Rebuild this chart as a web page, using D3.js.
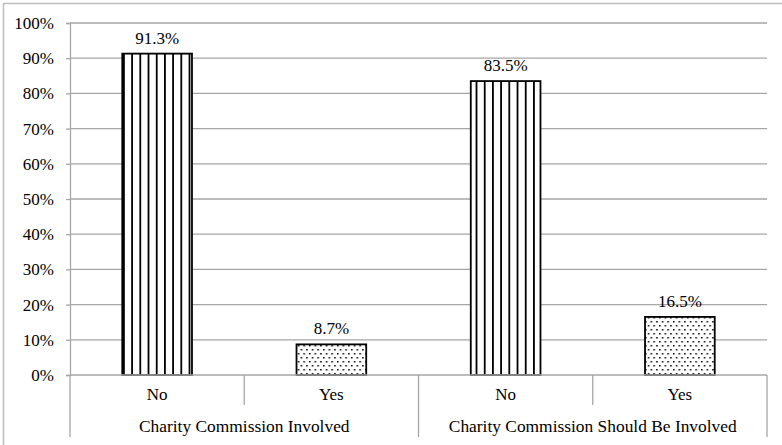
<!DOCTYPE html>
<html><head><meta charset="utf-8">
<script src="https://cdn.jsdelivr.net/npm/d3@7"></script>
<style>
html,body{margin:0;padding:0;background:#fff;}
svg{display:block;}
svg text{font-family:'Liberation Serif','Times New Roman',Times,'DejaVu Serif',serif !important;fill:#000;}
</style></head>
<body><svg id="chart" width="782" height="445"></svg>
<script>
const groups = ["Charity Commission Involved", "Charity Commission Should Be Involved"];
const answers = ["No", "Yes"];
const values = [0.913, 0.087, 0.835, 0.165];
const valueLabels = ["91.3%", "8.7%", "83.5%", "16.5%"];
const yTicks = [0, 0.1, 0.2, 0.3, 0.4, 0.5, 0.6, 0.7, 0.8, 0.9, 1.0];

(function () {
const FONT = "'Liberation Serif','Times New Roman',Times,serif";
const rows = [];
groups.forEach((g, gi) => answers.forEach((a, ai) => rows.push({
  key: g + "|" + a, group: g, answer: a, value: values[gi * 2 + ai], label: valueLabels[gi * 2 + ai]
})));

const svg = d3.select("#chart").attr("font-family", FONT);
const mLeft = 70, mRight = 767, mTop = 23, mBottom = 375;

const defs = svg.append("defs");
const pv = defs.append("pattern").attr("id", "vlines").attr("patternUnits", "userSpaceOnUse")
  .attr("width", 8.2).attr("height", 10).attr("x", 0).attr("y", 0);
pv.append("rect").attr("width", 8.2).attr("height", 10).attr("fill", "#fff");
pv.append("rect").attr("x", 0).attr("y", 0).attr("width", 1.8).attr("height", 10).attr("fill", "#000");

const pd = defs.append("pattern").attr("id", "dots").attr("patternUnits", "userSpaceOnUse")
  .attr("width", 5.6).attr("height", 8);
pd.append("rect").attr("width", 5.6).attr("height", 8).attr("fill", "#fff");
pd.append("rect").attr("x", 1).attr("y", 1).attr("width", 1.5).attr("height", 1.5).attr("fill", "#000");
pd.append("rect").attr("x", 3.8).attr("y", 5).attr("width", 1.5).attr("height", 1.5).attr("fill", "#000");

svg.append("rect").attr("x", 3.5).attr("y", 3.5).attr("width", 800).attr("height", 460)
  .attr("fill", "none").attr("stroke", "#bdbdbd").attr("stroke-width", 1.5);

const x = d3.scaleBand().domain(rows.map(d => d.key)).range([mLeft, mRight]).paddingInner(0).paddingOuter(0);
const y = d3.scaleLinear().domain([0, 1]).range([mBottom, mTop]);

svg.append("g").selectAll("line").data(yTicks.filter(t => t > 0)).join("line")
  .attr("x1", mLeft).attr("x2", mRight).attr("y1", d => y(d)).attr("y2", d => y(d))
  .attr("stroke", "#a6a6a6").attr("stroke-width", 1.3);

const yAxis = d3.axisLeft(y).tickValues(yTicks).tickFormat(d3.format(".0%")).tickSize(4).tickPadding(12);
const ya = svg.append("g").attr("transform", `translate(${mLeft},0)`).call(yAxis);
ya.attr("font-family", FONT).attr("font-size", 17);
ya.select(".domain").attr("stroke", "#a6a6a6").attr("stroke-width", 1.3);
ya.selectAll(".tick line").attr("stroke", "#a6a6a6").attr("stroke-width", 1.3);
ya.selectAll(".tick text").attr("font-size", 17).attr("font-family", FONT).attr("fill", "#000");

const bw = x.bandwidth() * 0.4;
svg.append("g").selectAll("rect").data(rows).join("rect")
  .attr("x", d => x(d.key) + (x.bandwidth() - bw) / 2)
  .attr("y", d => y(d.value))
  .attr("width", bw)
  .attr("height", d => y(0) - y(d.value))
  .attr("fill", d => d.answer === "No" ? "url(#vlines)" : "url(#dots)")
  .attr("stroke", "#000").attr("stroke-width", 1.8);

svg.append("g").selectAll("text").data(rows).join("text")
  .attr("x", d => x(d.key) + x.bandwidth() / 2)
  .attr("y", d => y(d.value) - 10)
  .attr("text-anchor", "middle").attr("font-size", 17).attr("font-family", FONT)
  .text(d => d.label);

svg.append("line").attr("x1", mLeft).attr("x2", mRight).attr("y1", mBottom).attr("y2", mBottom)
  .attr("stroke", "#a6a6a6").attr("stroke-width", 1.3);

const gx = svg.append("g");
rows.forEach((d, i) => {
  if (i % 2 === 1) {
    gx.append("line").attr("x1", x(d.key)).attr("x2", x(d.key)).attr("y1", mBottom).attr("y2", 405)
      .attr("stroke", "#a6a6a6").attr("stroke-width", 1.3);
  }
});
const groupEdges = [mLeft, x(rows[2].key), mRight];
gx.selectAll(".gs").data(groupEdges).join("line").attr("class", "gs")
  .attr("x1", d => d).attr("x2", d => d).attr("y1", mBottom).attr("y2", 437)
  .attr("stroke", "#a6a6a6").attr("stroke-width", 1.3);

gx.selectAll(".cat").data(rows).join("text").attr("class", "cat")
  .attr("x", d => x(d.key) + x.bandwidth() / 2).attr("y", 400)
  .attr("text-anchor", "middle").attr("font-size", 17).attr("font-family", FONT).text(d => d.answer);
gx.selectAll(".grp").data(groups).join("text").attr("class", "grp")
  .attr("x", (d, i) => x(rows[i * 2].key) + x.bandwidth())
  .attr("y", 432).attr("text-anchor", "middle").attr("font-size", 17.4).attr("font-family", FONT).text(d => d);
})();
</script></body></html>
